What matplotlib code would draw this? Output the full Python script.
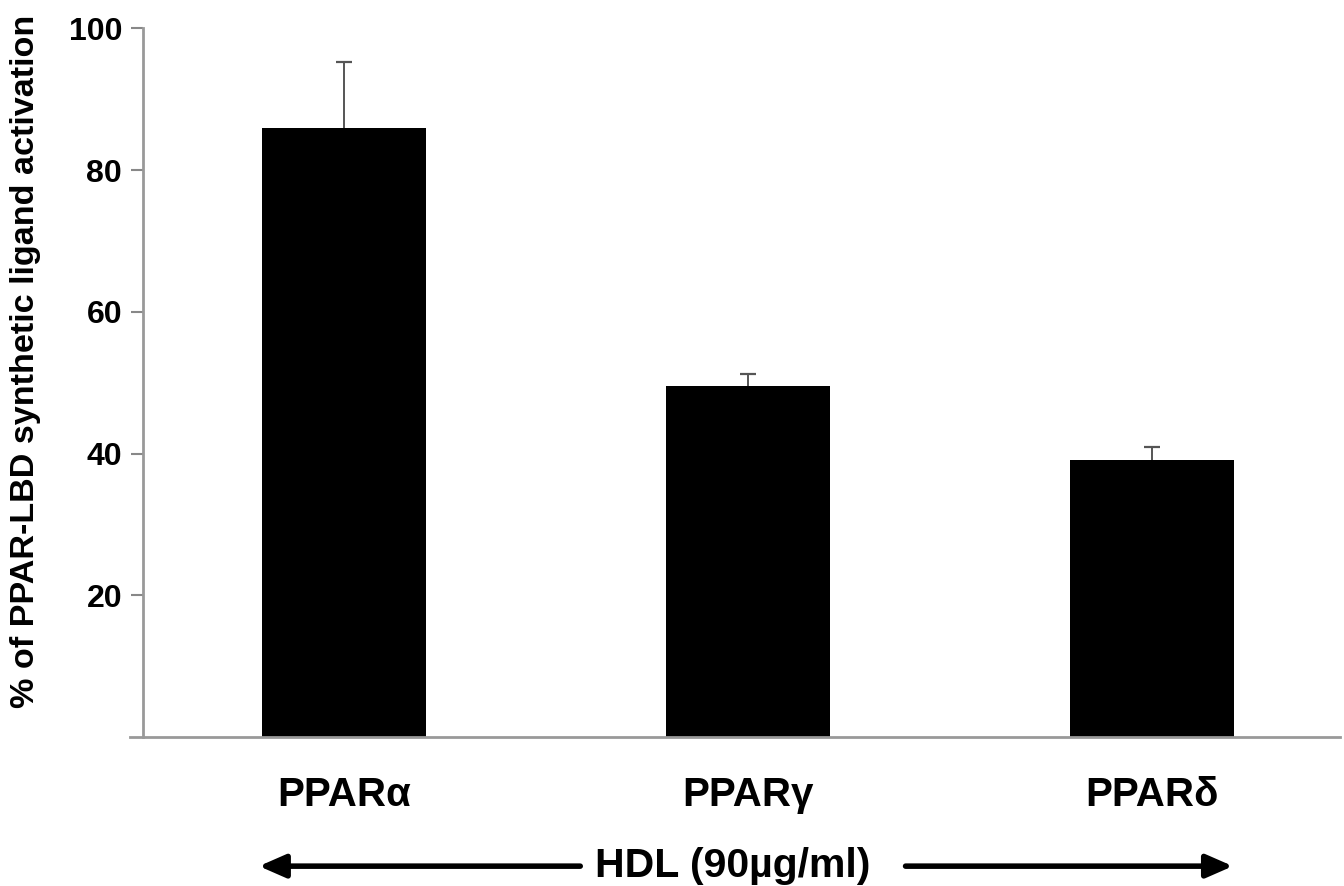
import matplotlib.pyplot as plt
import matplotlib.transforms as mtransforms
import numpy as np

plt.rcParams['font.family'] = ['Liberation Sans', 'DejaVu Sans']
plt.rcParams['font.weight'] = 'bold'

# values
receptors = ['PPARα', 'PPARγ', 'PPARδ']
activation = [86.0, 49.6, 39.1]
err_upper = [9.3, 1.6, 1.9]
yticks = [20, 40, 60, 80, 100]

fig = plt.figure(figsize=(13.44, 8.86), dpi=100)
ax = fig.add_axes([0.1064, 0.168, 0.8906, 0.8])

x = np.arange(len(receptors))
bars = ax.bar(x, activation, width=0.405, color='black',
              yerr=[np.zeros(len(err_upper)), err_upper],
              error_kw=dict(ecolor='#555555', elinewidth=1.4, capsize=6, capthick=1.6))
# only the upper caps are drawn in the original
caps = bars.errorbar.lines[1]
if len(caps) == 2:
    caps[0].set_visible(False)

ax.set_xlim(-0.497, 2.465)
ax.set_ylim(0, 100)
ax.set_yticks(yticks)
ax.set_yticklabels([str(v) for v in yticks], fontsize=23, fontweight='bold')
ax.set_xticks(x)
ax.set_xticklabels(receptors, fontsize=29, fontweight='bold')
ax.tick_params(axis='x', length=0, pad=28)
ax.tick_params(axis='y', length=9, width=1.5, color='#888888', pad=6)

for side in ['top', 'right']:
    ax.spines[side].set_visible(False)
for side in ['left', 'bottom']:
    ax.spines[side].set_color('#999999')
    ax.spines[side].set_linewidth(2)
ax.spines['bottom'].set_bounds(-0.53, 2.465)

ax.set_ylabel('% of PPAR-LBD synthetic ligand activation', fontsize=24.6,
              fontweight='bold')
ax.yaxis.set_label_coords(-0.085, 0.53)

# HDL arrows under the categories
trans = mtransforms.blended_transform_factory(ax.transData, ax.transAxes)
arrow_y = -0.182
ax.annotate('', xy=(-0.21, arrow_y), xytext=(0.585, arrow_y), xycoords=trans,
            textcoords=trans, annotation_clip=False,
            arrowprops=dict(arrowstyle='-|>,head_length=1.6,head_width=0.7',
                            lw=4, color='black', shrinkA=0, shrinkB=0))
ax.annotate('', xy=(2.2, arrow_y), xytext=(1.39, arrow_y), xycoords=trans,
            textcoords=trans, annotation_clip=False,
            arrowprops=dict(arrowstyle='-|>,head_length=1.6,head_width=0.7',
                            lw=4, color='black', shrinkA=0, shrinkB=0))
ax.text(0.962, arrow_y, 'HDL (90µg/ml)', transform=trans, ha='center',
        va='center', fontsize=29.5, fontweight='bold')

fig.savefig('out.png', dpi=100)
